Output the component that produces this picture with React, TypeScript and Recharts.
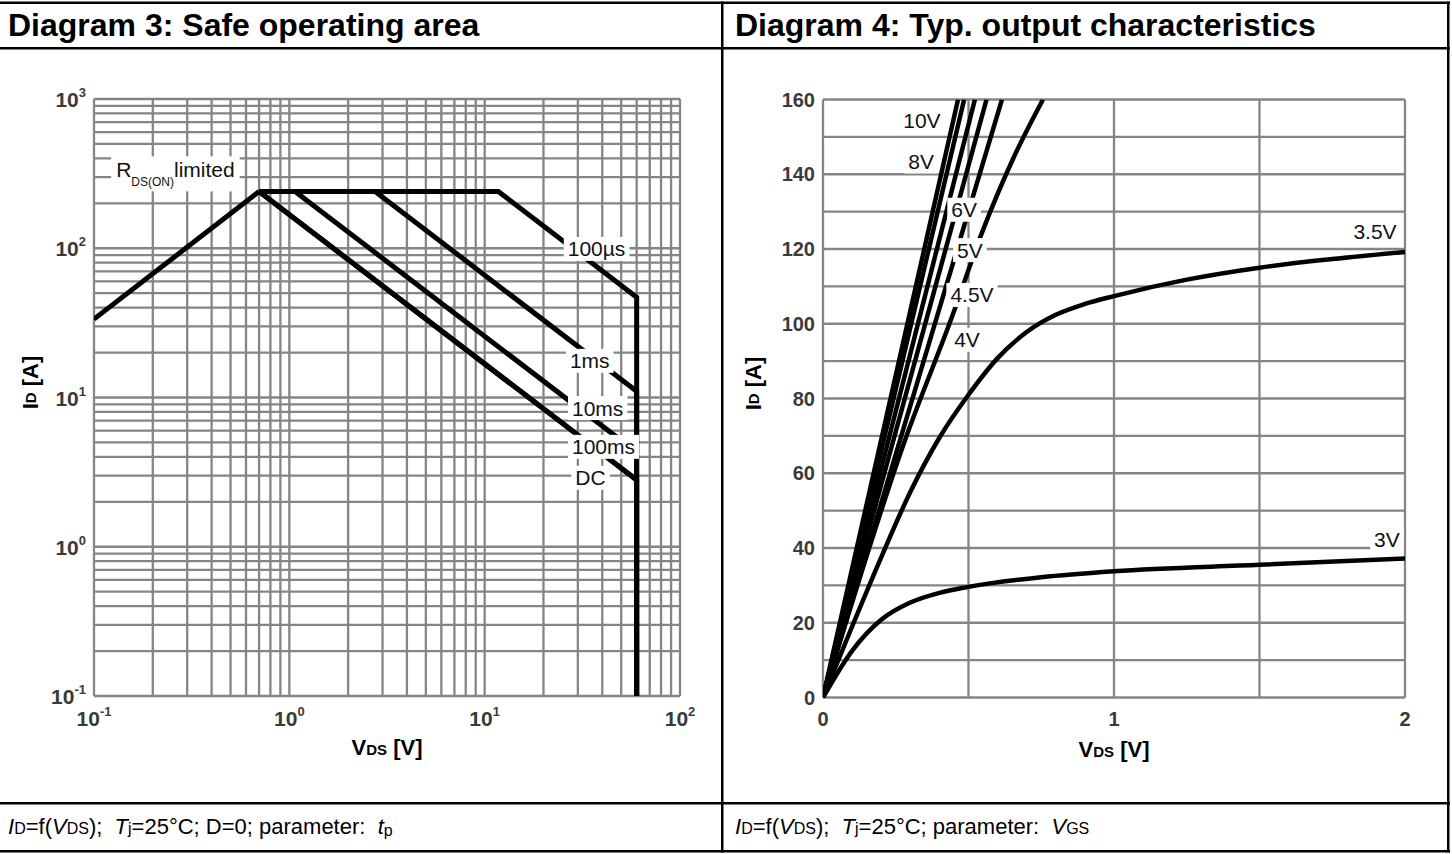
import React from "react";
import { LineChart, Line, XAxis, YAxis, CartesianGrid, ReferenceDot } from "recharts";

const FONT = "'Liberation Sans', Arial, Helvetica, sans-serif";
const GRID = "#858585";
const TICK = "#3a3a3a";

// ---- Diagram 3: safe operating area (log / log) ----
const soaRds = [{ v: 0.1, i: 33.5 }, { v: 0.7, i: 240 }];
const soa100us = [{ v: 0.7, i: 240 }, { v: 11.75, i: 240 }, { v: 60, i: 47 }, { v: 60, i: 0.1 }];
const soa1ms = [{ v: 0.7, i: 240 }, { v: 2.75, i: 240 }, { v: 60, i: 11 }, { v: 60, i: 0.1 }];
const soa10ms = [{ v: 0.7, i: 240 }, { v: 1.07, i: 240 }, { v: 60, i: 4.3 }];
const soa100ms = [{ v: 0.7, i: 240 }, { v: 60, i: 2.8 }];
const soaDc = [{ v: 0.7, i: 240 }, { v: 60, i: 2.8 }, { v: 60, i: 0.1 }];
const soaSeries = [soaRds, soa100us, soa1ms, soa10ms, soa100ms, soaDc];

const soaXTicks = [0.1, 1, 10, 100];
const soaYTicks = [0.1, 1, 10, 100, 1000];

const soaLabels = [
  { text: "100µs", v: 37.4, i: 99 },
  { text: "1ms", v: 34.5, i: 17.6 },
  { text: "10ms", v: 37.9, i: 8.5 },
  { text: "100ms", v: 40.6, i: 4.67 },
  { text: "DC", v: 34.8, i: 2.9 },
];

// ---- Diagram 4: typical output characteristics ----
const vgs10 = [{ v: 0, i: 0 }, { v: 0.464, i: 160 }];
const vgs8 = [{ v: 0, i: 0 }, { v: 0.485, i: 160 }];
const vgs6 = [{ v: 0, i: 0 }, { v: 0.522, i: 160 }];
const vgs5 = [{ v: 0, i: 0 }, { v: 0.562, i: 160 }];
const vgs45 = [{ v: 0, i: 0 }, { v: 0.615, i: 160 }];
const vgs4 = [
  { v: 0, i: 0 }, { v: 0.282, i: 68.9 }, { v: 0.443, i: 101.8 },
  { v: 0.546, i: 124.3 }, { v: 0.656, i: 144.6 }, { v: 0.756, i: 160 },
];
const vgs35 = [
  { v: 0, i: 0 }, { v: 0.1, i: 19 }, { v: 0.2, i: 37.5 }, { v: 0.3, i: 55 },
  { v: 0.4, i: 69.5 }, { v: 0.5, i: 81 }, { v: 0.6, i: 90.8 }, { v: 0.7, i: 97.8 },
  { v: 0.8, i: 102.4 }, { v: 0.9, i: 105.3 }, { v: 1, i: 107.4 }, { v: 1.25, i: 111.8 },
  { v: 1.5, i: 115 }, { v: 1.75, i: 117.3 }, { v: 2, i: 119.2 },
];
const vgs3 = [
  { v: 0, i: 0 }, { v: 0.1, i: 12.5 }, { v: 0.2, i: 20.8 }, { v: 0.3, i: 25.4 },
  { v: 0.4, i: 28 }, { v: 0.5, i: 29.6 }, { v: 0.75, i: 32.2 }, { v: 1, i: 33.8 },
  { v: 1.5, i: 35.5 }, { v: 2, i: 37.2 },
];
const straightCurves = [vgs10, vgs8, vgs6, vgs5, vgs45];
const bentCurves = [vgs4, vgs35, vgs3];

const outXTicks = [0, 1, 2];
const outYTicks = [0, 20, 40, 60, 80, 100, 120, 140, 160];
const outXGrid = [0, 0.5, 1, 1.5, 2];
const outYGrid = [0, 10, 20, 30, 40, 50, 60, 70, 80, 90, 100, 110, 120, 130, 140, 150, 160];

const outLabels = [
  { text: "10V", v: 0.34, i: 154.5 },
  { text: "8V", v: 0.337, i: 143.4 },
  { text: "6V", v: 0.485, i: 130.5 },
  { text: "5V", v: 0.505, i: 119.7 },
  { text: "4.5V", v: 0.512, i: 107.7 },
  { text: "4V", v: 0.495, i: 95.7 },
  { text: "3.5V", v: 1.897, i: 124.6 },
  { text: "3V", v: 1.938, i: 42.4 },
];

// grid lines at 1..9 of every decade
function logGrid(lo: number, hi: number) {
  const out: number[] = [];
  for (let e = lo; e < hi; e++) {
    for (let m = 1; m < 10; m++) out.push(+(m * Math.pow(10, e)).toPrecision(3));
  }
  out.push(Math.pow(10, hi));
  return out;
}

let measureCtx: CanvasRenderingContext2D | null = null;
function textWidth(s: string, size: number) {
  if (!measureCtx) measureCtx = document.createElement("canvas").getContext("2d");
  if (!measureCtx) return s.length * size * 0.55;
  measureCtx.font = `${size}px ${FONT}`;
  return measureCtx.measureText(s).width;
}

function boxedLabel(text: string) {
  return (p: any) => {
    const w = textWidth(text, 21);
    return (
      <g>
        <rect x={p.cx - w / 2 - 4} y={p.cy - 12} width={w + 8} height={24} fill="#fff" />
        <text x={p.cx} y={p.cy + 7.5} textAnchor="middle" fontFamily={FONT} fontSize={21} fill="#111">
          {text}
        </text>
      </g>
    );
  };
}

function RdsLabel(p: any) {
  const w = textWidth("R", 21) + textWidth("DS(ON)", 12) + textWidth("limited", 21);
  const x0 = p.cx - w / 2;
  return (
    <g>
      <rect x={x0 - 5} y={p.cy - 17.5} width={w + 10} height={35} fill="#fff" />
      <text x={x0} y={p.cy + 3.5} fontFamily={FONT} fontSize={21} fill="#111">
        R
        <tspan fontSize={12} dy={9}>DS(ON)</tspan>
        <tspan fontSize={21} dy={-9}>limited</tspan>
      </text>
    </g>
  );
}

function PowTickX(p: any) {
  const exp = Math.round(Math.log10(p.payload.value));
  return (
    <text x={p.x} y={p.y + 30} textAnchor="middle" fontFamily={FONT} fontSize={21} fontWeight="bold" fill={TICK}>
      10<tspan dy={-10} fontSize={13}>{exp}</tspan>
    </text>
  );
}

function PowTickY(p: any) {
  const exp = Math.round(Math.log10(p.payload.value));
  return (
    <text x={p.x - 8} y={p.y + 8} textAnchor="end" fontFamily={FONT} fontSize={21} fontWeight="bold" fill={TICK}>
      10<tspan dy={-10} fontSize={13}>{exp}</tspan>
    </text>
  );
}

function NumTickX(p: any) {
  return (
    <text x={p.x} y={p.y + 28} textAnchor="middle" fontFamily={FONT} fontSize={20} fontWeight="bold" fill={TICK}>
      {p.payload.value}
    </text>
  );
}

function NumTickY(p: any) {
  return (
    <text x={p.x - 8} y={p.y + 7} textAnchor="end" fontFamily={FONT} fontSize={20} fontWeight="bold" fill={TICK}>
      {p.payload.value}
    </text>
  );
}

function XTitle(p: any) {
  const vb = p.viewBox;
  return (
    <text x={vb.x + vb.width / 2} y={vb.y + 59} textAnchor="middle" fontFamily={FONT} fontSize={22} fontWeight="bold" fill="#000">
      V<tspan fontSize={15}>DS</tspan> [V]
    </text>
  );
}

function YTitle(offset: number) {
  return (p: any) => {
    const vb = p.viewBox;
    const cx = vb.x + vb.width - offset;
    const cy = vb.y + vb.height / 2 - 15;
    return (
      <text x={cx} y={cy} transform={`rotate(-90 ${cx} ${cy})`} textAnchor="middle" dominantBaseline="central"
        fontFamily={FONT} fontSize={22} fontWeight="bold" fill="#000">
        I<tspan fontSize={15}>D</tspan> [A]
      </text>
    );
  };
}

function SoaChart() {
  return (
    <LineChart width={722} height={800} margin={{ top: 99, right: 42, bottom: 64, left: 0 }}>
      <CartesianGrid stroke={GRID} strokeWidth={2.3} horizontalValues={logGrid(-1, 3)} verticalValues={logGrid(-1, 2)} />
      <XAxis dataKey="v" type="number" scale="log" domain={[0.1, 100]} ticks={soaXTicks} interval={0}
        height={40} tickSize={0} tickMargin={0} axisLine={false} tickLine={false} tick={PowTickX}
        allowDataOverflow label={{ content: XTitle }} />
      <YAxis dataKey="i" type="number" scale="log" domain={[0.1, 1000]} ticks={soaYTicks} interval={0}
        width={94} tickSize={0} tickMargin={0} axisLine={false} tickLine={false} tick={PowTickY}
        allowDataOverflow label={{ content: YTitle(64) }} />
      {soaSeries.map((d, k) => (
        <Line key={k} data={d} dataKey="i" type="linear" stroke="#000" strokeWidth={5}
          dot={false} activeDot={false} isAnimationActive={false} />
      ))}
      <ReferenceDot x={0.261} y={315} r={0} shape={RdsLabel} />
      {soaLabels.map((l) => (
        <ReferenceDot key={l.text} x={l.v} y={l.i} r={0} shape={boxedLabel(l.text)} />
      ))}
    </LineChart>
  );
}

function OutputChart() {
  return (
    <LineChart width={730} height={800} margin={{ top: 99.5, right: 47, bottom: 62.5, left: 0 }}>
      <CartesianGrid stroke={GRID} strokeWidth={2.3} horizontalValues={outYGrid} verticalValues={outXGrid} />
      <XAxis dataKey="v" type="number" domain={[0, 2]} ticks={outXTicks} interval={0}
        height={40} tickSize={0} tickMargin={0} axisLine={false} tickLine={false} tick={NumTickX}
        allowDataOverflow label={{ content: XTitle }} />
      <YAxis dataKey="i" type="number" domain={[0, 160]} ticks={outYTicks} interval={0}
        width={101} tickSize={0} tickMargin={0} axisLine={false} tickLine={false} tick={NumTickY}
        allowDataOverflow label={{ content: YTitle(70) }} />
      {straightCurves.map((d, k) => (
        <Line key={"s" + k} data={d} dataKey="i" type="linear" stroke="#000" strokeWidth={4.5}
          dot={false} activeDot={false} isAnimationActive={false} />
      ))}
      {bentCurves.map((d, k) => (
        <Line key={"b" + k} data={d} dataKey="i" type="monotone" stroke="#000" strokeWidth={4.5}
          dot={false} activeDot={false} isAnimationActive={false} />
      ))}
      {outLabels.map((l) => (
        <ReferenceDot key={l.text} x={l.v} y={l.i} r={0} shape={boxedLabel(l.text)} />
      ))}
    </LineChart>
  );
}

// datasheet table frame with headings and condition lines
function Frame() {
  const sub = 16;
  return (
    <svg width={1452} height={854} style={{ position: "absolute", left: 0, top: 0 }}>
      <rect x={0} y={0} width={1452} height={854} fill="#fff" />
      <g fill="#000">
        <rect x={0} y={1.5} width={1450} height={2.5} />
        <rect x={0} y={47} width={1450} height={2.5} />
        <rect x={0} y={802} width={1450} height={2.5} />
        <rect x={0} y={850} width={1450} height={2.5} />
        <rect x={721} y={1.5} width={2.5} height={851} />
        <rect x={1447} y={1.5} width={2.5} height={851} />
      </g>
      <g fontFamily={FONT} fill="#000">
        <text x={8} y={36} fontSize={32} fontWeight="bold">Diagram 3: Safe operating area</text>
        <text x={735} y={36} fontSize={32} fontWeight="bold">Diagram 4: Typ. output characteristics</text>
        <text x={8} y={834} fontSize={22} style={{ whiteSpace: "pre" }}>
          <tspan fontStyle="italic">I</tspan><tspan fontSize={sub}>D</tspan>=f(<tspan fontStyle="italic">V</tspan>
          <tspan fontSize={sub}>DS</tspan>);  <tspan fontStyle="italic">T</tspan><tspan fontSize={sub}>j</tspan>
          =25°C; D=0; parameter:  <tspan fontStyle="italic">t</tspan><tspan fontSize={sub} dy={2}>p</tspan>
        </text>
        <text x={735} y={834} fontSize={22} style={{ whiteSpace: "pre" }}>
          <tspan fontStyle="italic">I</tspan><tspan fontSize={sub}>D</tspan>=f(<tspan fontStyle="italic">V</tspan>
          <tspan fontSize={sub}>DS</tspan>);  <tspan fontStyle="italic">T</tspan><tspan fontSize={sub}>j</tspan>
          =25°C; parameter:  <tspan fontStyle="italic">V</tspan><tspan fontSize={sub}>GS</tspan>
        </text>
      </g>
    </svg>
  );
}

export default function App() {
  return (
    <div style={{ position: "absolute", left: 0, top: 0, width: 1452, height: 854, background: "#fff" }}>
      <Frame />
      <div style={{ position: "absolute", left: 0, top: 0 }}>
        <SoaChart />
      </div>
      <div style={{ position: "absolute", left: 722, top: 0 }}>
        <OutputChart />
      </div>
    </div>
  );
}
